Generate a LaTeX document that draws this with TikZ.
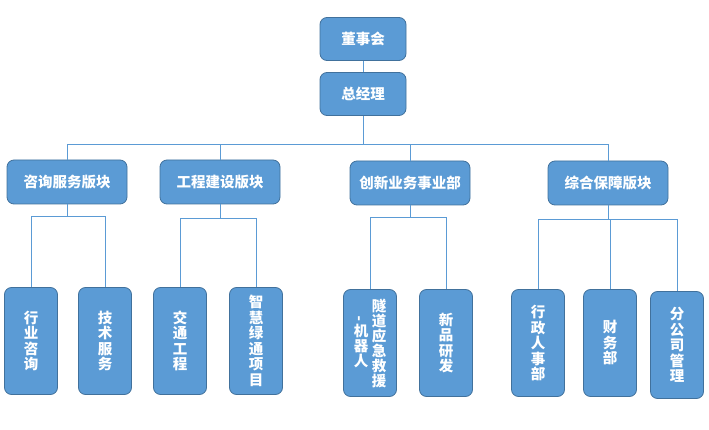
\documentclass[tikz,border=0pt]{standalone}
\usepackage{fontspec}
\usepackage{graphicx}
\usepackage{xcolor}
\newfontfamily\cjk{Noto Sans CJK SC}
\usetikzlibrary{positioning,calc}
\definecolor{boxblue}{HTML}{5B9BD5}
\definecolor{boxline}{HTML}{41719C}
\tikzset{
	box/.style={draw=boxline,fill=boxblue,rounded corners=7pt,text=white,line width=0.8pt,inner sep=0pt,
		font=\cjk\bfseries\fontsize{14.5}{15.5}\selectfont},
	headbox/.style={box,minimum width=86pt,minimum height=43pt},
	deptbox/.style={box,minimum width=120pt,minimum height=44pt},
	unitbox/.style={box,minimum width=53pt,minimum height=107pt,align=center},
	vtext/.style={text=white,inner sep=0pt,align=center,font=\cjk\bfseries\fontsize{14.5}{15}\selectfont},
	link/.style={draw=boxblue,line width=0.8pt}
}

\begin{document}
\begin{tikzpicture}[x=1pt,y=-1pt]
	\useasboundingbox (0,0) rectangle (709,430);
	% top
	\node[headbox] (dsh) at (363,39) {董事会};
	\node[headbox] (zjl) at (363,94) {总经理};
	% departments
	\node[deptbox] (zx) at (67,182) {咨询服务版块};
	\node[deptbox] (gc) at (220,182) {工程建设版块};
	\node[deptbox] (cx) at (410,183) {创新业务事业部};
	\node[deptbox] (zh) at (608,183) {综合保障版块};
	% units
	\node[unitbox] (hyzx) at (31,341) {行\\业\\咨\\询};
	\node[unitbox] (jsfw) at (105,341) {技\\术\\服\\务};
	\node[unitbox] (jtgc) at (180,341) {交\\通\\工\\程};
	\node[unitbox] (zhlt) at (256,341) {智\\慧\\绿\\通\\项\\目};
	\node[unitbox] (sdyj) at (370,343) {};
	\node[vtext] (sdR) at (379,343) {隧\\道\\应\\急\\救\\援};
	\node[vtext] (sdL) at (361,342) {\rotatebox{90}{-}\\机\\器\\人};
	\node[unitbox] (xpyf) at (446,343) {新\\品\\研\\发};
	\node[unitbox] (xzrs) at (538,343) {行\\政\\人\\事\\部};
	\node[unitbox] (cwb) at (610,343) {财\\务\\部};
	\node[unitbox] (fgs) at (677,345) {分\\公\\司\\管\\理};

	\coordinate (bus) at (0,144);
	\draw[link] (dsh) -- (zjl);
	\draw[link] (zjl) -- (zjl |- bus);
	\draw[link] (zx.north) |- (zh.north |- bus) -- (zh.north);
	\draw[link] (gc.north) -- (gc.north |- bus);
	\draw[link] (cx.north) -- (cx.north |- bus);

	\draw[link] (zx.south) -- ++(0,12) -| (hyzx.north);
	\draw[link] (zx.south) -- ++(0,12) -| (jsfw.north);
	\draw[link] (gc.south) -- ++(0,14) -| (jtgc.north);
	\draw[link] (gc.south) -- ++(0,14) -| (zhlt.north);
	\draw[link] (cx.south) -- ++(0,12) -| (sdyj.north);
	\draw[link] (cx.south) -- ++(0,12) -| (xpyf.north);
	\draw[link] (zh.south) -- ++(0,14) -| (xzrs.north);
	\draw[link] (zh.south) -- ++(0,14) -| (cwb.north);
	\draw[link] (zh.south) -- ++(0,14) -| (fgs.north);
\end{tikzpicture}
\end{document}
